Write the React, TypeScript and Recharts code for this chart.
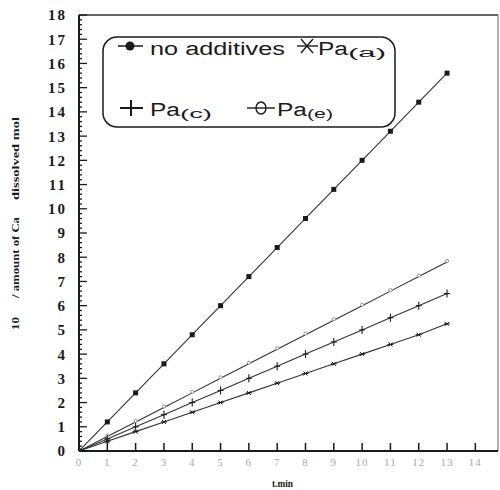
import React from 'react';
import { LineChart, Line, XAxis, YAxis, Legend, ReferenceLine } from 'recharts';

// t, min
const minutes = [0, 1, 2, 3, 4, 5, 6, 7, 8, 9, 10, 11, 12, 13];
const noAdditives = [0, 1.2, 2.4, 3.6, 4.8, 6.0, 7.2, 8.4, 9.6, 10.8, 12.0, 13.2, 14.4, 15.6];
const paE = [0, 0.6, 1.2, 1.8, 2.4, 3.0, 3.6, 4.2, 4.8, 5.4, 6.0, 6.6, 7.2, 7.8];
const paC = [0, 0.5, 1.0, 1.5, 2.0, 2.5, 3.0, 3.5, 4.0, 4.5, 5.0, 5.5, 6.0, 6.5];
const paA = [0, 0.4, 0.8, 1.2, 1.6, 2.0, 2.4, 2.8, 3.2, 3.6, 4.0, 4.4, 4.8, 5.25];

const xTicks = [0, 1, 2, 3, 4, 5, 6, 7, 8, 9, 10, 11, 12, 13, 14];
const yTicks = [0, 1, 2, 3, 4, 5, 6, 7, 8, 9, 10, 11, 12, 13, 14, 15, 16, 17, 18];

const data = minutes.map((t, i) => ({
  t,
  none: noAdditives[i],
  e: paE[i],
  c: paC[i],
  a: paA[i],
}));

// majors plus 4 minor marks between each
const yAllTicks = yTicks.flatMap((v, i) =>
  i === yTicks.length - 1 ? [v] : [0, 0.2, 0.4, 0.6, 0.8].map((f) => Math.round((v + f) * 10) / 10)
);

const SERIF = '"Liberation Serif", "DejaVu Serif", serif';
const SANS = '"Liberation Sans", Arial, sans-serif';
const INK = '#1a1a1a';

const YTick = (props: any) => {
  const { x, y, payload } = props;
  const v = payload.value;
  const axisX = x + 12;
  const major = Number.isInteger(v);
  return (
    <g>
      <line x1={axisX} x2={axisX + (major ? 8 : 3)} y1={y} y2={y} stroke={INK} strokeWidth={1.3} />
      {major && (
        <text x={x} y={y} dy="0.36em" textAnchor="end" fontFamily={SERIF} fontWeight="bold" fontSize={15} letterSpacing={2} fill={INK}>
          {v}
        </text>
      )}
    </g>
  );
};

const XTick = (props: any) => {
  const { x, y, payload } = props;
  const axisY = y - 11;
  return (
    <g>
      <line x1={x} x2={x} y1={axisY} y2={axisY - 8} stroke={INK} strokeWidth={1.5} />
      <text x={x} y={y} dy="0.36em" textAnchor="middle" fontFamily={SERIF} fontSize={11} letterSpacing={1} fill="#a8a8a8">
        {payload.value}
      </text>
    </g>
  );
};

const SquareDot = (p: any) =>
  p.cx == null ? <g key={p.index} /> : <rect key={p.index} x={p.cx - 2.5} y={p.cy - 2.5} width={5} height={5} fill={INK} />;

const CircleDot = (p: any) =>
  p.cx == null ? <g key={p.index} /> : <circle key={p.index} cx={p.cx} cy={p.cy - 1} r={1.6} fill="#fff" stroke="#888" strokeWidth={0.9} />;

const PlusDot = (p: any) =>
  p.cx == null ? (
    <g key={p.index} />
  ) : (
    <g key={p.index} stroke={INK} strokeWidth={1.1}>
      <line x1={p.cx} x2={p.cx} y1={p.cy - 4} y2={p.cy + 4} />
      <line x1={p.cx - 3} x2={p.cx + 3} y1={p.cy} y2={p.cy} />
    </g>
  );

const StarDot = (p: any) =>
  p.cx == null ? (
    <g key={p.index} />
  ) : (
    <g key={p.index} stroke={INK} strokeWidth={1}>
      <line x1={p.cx - 2} x2={p.cx + 2} y1={p.cy - 2} y2={p.cy + 2} />
      <line x1={p.cx - 2} x2={p.cx + 2} y1={p.cy + 2} y2={p.cy - 2} />
      <line x1={p.cx - 3} x2={p.cx + 3} y1={p.cy} y2={p.cy} />
    </g>
  );

const Sub = ({ x, y, main, sub, w1, w2 }: any) => (
  <g fill={INK}>
    <text x={x} y={y} fontFamily={SANS} fontSize={18} textLength={w1} lengthAdjust="spacingAndGlyphs">
      {main}
    </text>
    <text x={x + w1} y={y + 2} fontFamily={SANS} fontSize={12} textLength={w2} lengthAdjust="spacingAndGlyphs">
      {sub}
    </text>
  </g>
);

// legend box, coordinates relative to (100, 35)
const LegendBox = () => (
  <svg width={300} height={95} style={{ overflow: 'visible', display: 'block' }}>
    <rect x={3} y={2} width={292} height={90} rx={14} fill="#fff" stroke={INK} strokeWidth={1.5} />
    {/* no additives */}
    <line x1={18} x2={43} y1={11} y2={11} stroke={INK} strokeWidth={1.5} />
    <circle cx={30} cy={11} r={4.5} fill={INK} />
    <text x={50} y={20} fontFamily={SANS} fontSize={18} fill={INK} textLength={135} lengthAdjust="spacingAndGlyphs">
      no additives
    </text>
    {/* Pa(a) */}
    <g stroke={INK} strokeWidth={1.4}>
      <line x1={197} x2={218} y1={11} y2={11} />
      <line x1={201} x2={213} y1={4} y2={18} />
      <line x1={201} x2={213} y1={18} y2={4} />
    </g>
    <Sub x={218} y={20} main="Pa" sub="(a)" w1={30} w2={38} />
    {/* Pa(c) */}
    <g stroke={INK} strokeWidth={2}>
      <line x1={20} x2={43} y1={73} y2={73} />
      <line x1={31} x2={31} y1={65} y2={81} />
    </g>
    <Sub x={50} y={81} main="Pa" sub="(c)" w1={30} w2={32} />
    {/* Pa(e) */}
    <line x1={147} x2={175} y1={73} y2={73} stroke={INK} strokeWidth={1.4} />
    <ellipse cx={161} cy={73} rx={5} ry={6} fill="none" stroke={INK} strokeWidth={1.4} />
    <Sub x={177} y={81} main="Pa" sub="(e)" w1={30} w2={26} />
  </svg>
);

const YLabel = () => (
  <g transform="translate(19, 0) rotate(-90)" fontFamily={SERIF} fontWeight="bold" fontSize={11} fill={INK}>
    <text x={-330} y={0} textLength={13} lengthAdjust="spacingAndGlyphs">10</text>
    <text x={-298} y={0} textLength={81} lengthAdjust="spacingAndGlyphs">/ amount of Ca</text>
    <text x={-200} y={0} textLength={83} lengthAdjust="spacingAndGlyphs">dissolved mol</text>
  </g>
);

const XLabel = () => (
  <text x={272} y={487} fontFamily={SERIF} fontWeight="bold" fontSize={11} fill={INK} textLength={21} lengthAdjust="spacingAndGlyphs">
    t.min
  </text>
);

export default function App() {
  return (
    <div style={{ position: 'absolute', left: 0, top: 0, width: 500, height: 490, background: '#fff' }}>
      <LineChart width={500} height={490} data={data} margin={{ top: 15, right: 2, left: 0, bottom: 0 }}>
        <XAxis
          dataKey="t"
          type="number"
          domain={[0, 14.8]}
          allowDataOverflow
          ticks={xTicks}
          interval={0}
          height={39}
          tickSize={0}
          tickMargin={11}
          tickLine={false}
          axisLine={{ stroke: INK, strokeWidth: 2 }}
          tick={XTick}
          label={XLabel}
        />
        <YAxis
          type="number"
          domain={[0, 18]}
          allowDataOverflow
          ticks={yAllTicks}
          interval={0}
          width={79}
          tickSize={0}
          tickMargin={12}
          tickLine={false}
          axisLine={{ stroke: INK, strokeWidth: 2 }}
          tick={YTick}
          label={YLabel}
        />
        <ReferenceLine y={18} stroke="#333" strokeWidth={1.5} />
        <ReferenceLine x={14.8} stroke="#666" strokeWidth={1} />
        <Legend
          verticalAlign="middle"
          align="center"
          layout="horizontal"
          content={LegendBox}
          wrapperStyle={{ left: 100, top: 35, width: 300, height: 95 }}
        />
        <Line dataKey="none" stroke="#333" strokeWidth={1.1} dot={SquareDot} isAnimationActive={false} />
        <Line dataKey="e" stroke="#333" strokeWidth={1.1} dot={CircleDot} isAnimationActive={false} />
        <Line dataKey="c" stroke="#333" strokeWidth={1.1} dot={PlusDot} isAnimationActive={false} />
        <Line dataKey="a" stroke="#333" strokeWidth={1.1} dot={StarDot} isAnimationActive={false} />
      </LineChart>
    </div>
  );
}
